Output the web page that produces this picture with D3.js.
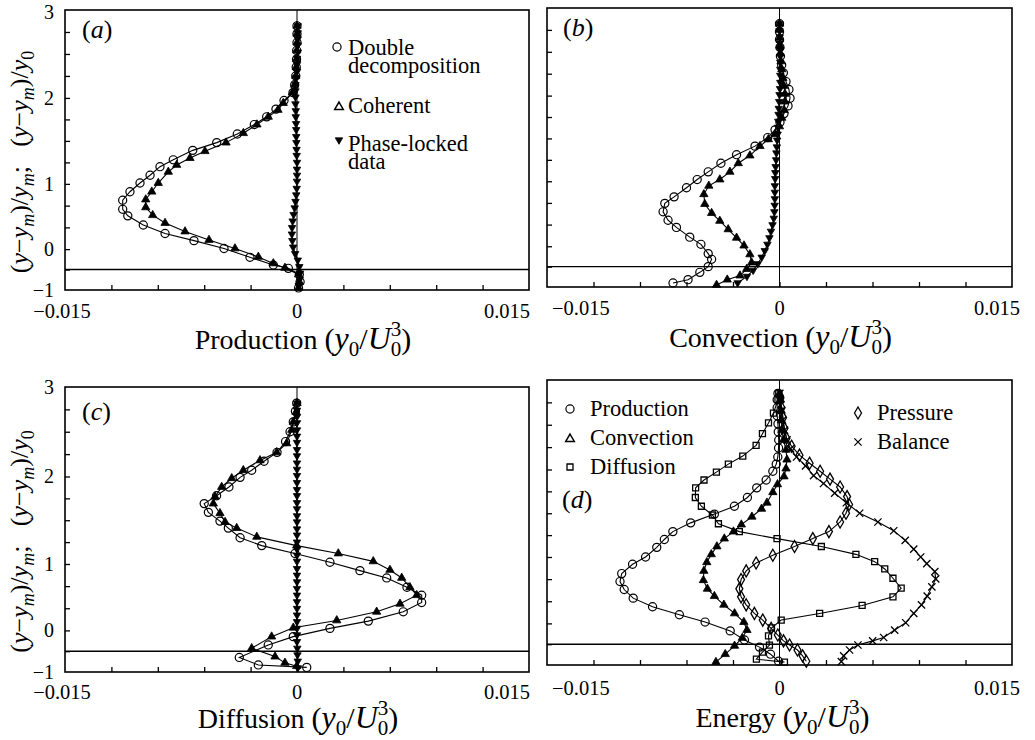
<!DOCTYPE html>
<html>
<head>
<meta charset="utf-8">
<script src="https://cdn.jsdelivr.net/npm/d3@7"></script>
<style>
  body { margin: 0; background: #fff; }
</style>
</head>
<body>
<script>
// Axis tick values
const xMinorTicks = [-0.012, -0.009, -0.006, -0.003, 0, 0.003, 0.006, 0.009, 0.012];
const xTickLabels = [-0.015, 0, 0.015];
const yTickLabels = [3, 2, 1, 0, -1];
const yTicks = [2.75, 2.5, 2.25, 2, 1.75, 1.5, 1.25, 1, 2 / 3, 1 / 3, 0, -0.5];

// Profiles: [vertical position, value in units of 1e-3 (y0/U0^3)]
const prodDouble = [[2.82,0],[2.73,0],[2.63,0],[2.54,-0.02],[2.44,-0.03],[2.35,-0.05],[2.25,-0.08],[2.15,-0.15],[2.06,-0.26],
  [1.97,-0.84],[1.87,-1.36],[1.78,-1.96],[1.69,-2.76],[1.58,-3.86],[1.48,-5.19],[1.39,-6.74],[1.28,-8.00],[1.20,-8.86],[1.10,-9.50],[1.01,-10.15],
  [0.88,-10.80],[0.75,-11.27],[0.61,-11.27],[0.51,-10.94],[0.37,-9.94],[0.24,-8.53],[0.13,-6.66],[0.01,-4.72],
  [-0.20,-3.04],[-0.39,-1.53],[-0.47,-0.56],[-0.62,0.15],[-0.80,0.2],[-0.95,0.1]];
const prodCoherent = [[2.82,0],[2.73,0],[2.63,0],[2.54,-0.02],[2.44,-0.03],[2.35,-0.05],[2.25,-0.08],[2.15,-0.15],[2.06,-0.3],
  [1.94,-0.89],[1.86,-1.23],[1.78,-1.86],[1.69,-2.59],[1.59,-3.47],[1.48,-4.59],[1.38,-5.95],[1.30,-6.92],[1.22,-7.78],[1.14,-8.32],[1.01,-8.97],
  [0.88,-9.39],[0.76,-9.78],[0.64,-9.78],[0.52,-9.33],[0.40,-8.53],[0.27,-7.24],[0.14,-5.69],[0.01,-4.01],
  [-0.19,-2.50],[-0.35,-1.53],[-0.46,-0.78],[-0.62,0.1],[-0.80,0.15],[-0.95,0.1]];

const convDouble = [[2.82,0],[2.73,0],[2.64,0],[2.55,0.03],[2.45,0.06],[2.35,0.14],[2.26,0.25],[2.16,0.42],[2.07,0.61],
  [1.97,0.68],[1.88,0.55],[1.79,0.29],[1.69,0.03],[1.60,-0.29],[1.51,-0.76],[1.41,-1.58],[1.31,-2.77],[1.21,-3.78],[1.11,-4.60],[1.02,-5.31],
  [0.90,-6.00],[0.76,-6.80],[0.66,-7.40],[0.53,-7.51],[0.40,-7.19],[0.29,-6.65],[0.14,-5.79],[0.03,-5.07],
  [-0.18,-4.60],[-0.32,-4.38],[-0.50,-4.60],[-0.64,-5.14],[-0.82,-5.90],[-0.90,-6.87]];
const convCoherent = [[2.82,0],[2.75,0],[2.66,0],[2.57,0.02],[2.48,0.05],[2.39,0.1],[2.30,0.15],[2.20,0.22],[2.11,0.29],[2.02,0.35],
  [1.93,0.35],[1.83,0.3],[1.74,0.15],[1.64,0],[1.55,-0.29],[1.49,-0.72],[1.41,-1.26],[1.30,-1.91],[1.21,-2.66],[1.11,-3.20],[1.02,-3.85],
  [0.93,-4.56],[0.80,-4.88],[0.65,-4.82],[0.51,-4.38],[0.39,-3.85],[0.26,-3.31],[0.13,-2.77],[0.01,-2.29],
  [-0.20,-1.91],[-0.40,-1.80],[-0.56,-2.12],[-0.72,-2.55],[-0.82,-3.37],[-0.95,-4.06]];

const diffDouble = [[2.82,-0.02],[2.73,-0.1],[2.61,-0.24],[2.50,-0.45],[2.39,-0.74],[2.27,-1.29],[2.17,-2.13],[2.07,-2.93],[1.99,-3.68],
  [1.88,-4.40],[1.78,-5.20],[1.69,-6.00],[1.59,-5.73],[1.49,-4.98],[1.41,-4.44],[1.30,-3.68],[1.21,-2.28],[1.12,-0.13],[1.02,2.13],
  [0.90,4.07],[0.79,5.80],[0.65,7.11],[0.53,8.06],[0.42,8.06],[0.28,6.87],[0.14,4.61],[0.03,2.13],
  [-0.15,-0.24],[-0.35,-1.86],[-0.65,-3.73],[-0.83,-2.50],[-0.89,0.63]];
const diffCoherent = [[2.82,0],[2.72,-0.06],[2.61,-0.24],[2.52,-0.34],[2.37,-0.67],[2.27,-1.31],[2.18,-2.39],[2.07,-3.47],[1.98,-4.22],
  [1.88,-4.87],[1.77,-5.30],[1.69,-5.41],[1.58,-4.98],[1.48,-4.65],[1.41,-3.90],[1.31,-2.60],[1.21,-0.02],[1.12,2.67],[1.03,4.93],
  [0.91,6.01],[0.79,6.77],[0.65,7.30],[0.53,7.74],[0.40,6.66],[0.28,5.15],[0.15,2.57],[0.04,-0.24],
  [-0.15,-1.64],[-0.43,-2.93],[-0.63,-1.42],[-0.78,-0.78],[-0.86,-0.02]];

// Phase-locked data share the same measuring stations
const phaseY = [2.82,2.74,2.67,2.60,2.52,2.45,2.38,2.30,2.23,2.15,2.08,2.01,1.93,1.85,1.78,1.70,1.63,1.55,1.48,1.40,1.33,
  1.25,1.17,1.10,1.03,0.93,0.83,0.73,0.63,0.53,0.43,0.33,0.23,0.13,0.03,-0.11,-0.27,-0.43,-0.59,-0.74,-0.90];
const prodPhase = [0.05,0.05,0.05,0.05,0.05,0,0,0,-0.05,-0.1,-0.1,-0.1,-0.1,-0.08,-0.08,-0.06,-0.05,-0.05,-0.04,-0.03,-0.02,
  0,0,0,0,-0.02,-0.05,-0.1,-0.15,-0.22,-0.28,-0.32,-0.33,-0.3,-0.25,-0.12,0.05,0.15,0.2,0.18,0.12];
const convPhase = [0,0,0.02,0.03,0.05,0.05,0.05,0.05,0.05,0.05,0.03,0,-0.02,-0.05,-0.06,-0.08,-0.1,-0.12,-0.15,-0.17,-0.2,
  -0.22,-0.25,-0.27,-0.28,-0.3,-0.3,-0.3,-0.31,-0.33,-0.37,-0.45,-0.55,-0.65,-0.78,-0.95,-1.15,-1.4,-1.7,-2.1,-2.7];
const diffPhase = [0,0,0,0,0,0,0,0,0,0,0,0,0,0,0,0,0,0,0,0,0,
  0,0,0,0,0,0,0,0,0,0,0,0,0,0,0,0,0.02,0.03,0.05,0.05];

// Energy budget terms
const energyProduction = [[2.85,-0.1],[2.78,-0.15],[2.69,-0.15],[2.60,-0.15],[2.51,-0.1],[2.42,-0.08],[2.33,-0.05],[2.24,-0.06],[2.14,-0.11],
  [2.06,-0.21],[1.98,-0.43],[1.88,-0.86],[1.79,-1.47],[1.68,-2.07],[1.58,-2.91],[1.49,-4.20],[1.39,-5.73],[1.29,-6.88],[1.20,-7.43],[1.11,-7.92],
  [1.00,-8.64],[0.89,-9.48],[0.75,-10.18],[0.63,-10.29],[0.51,-10.02],[0.38,-9.44],[0.25,-8.19],[0.13,-6.46],[0.02,-4.80],
  [-0.18,-3.18],[-0.40,-2.26],[-0.57,-1.29],[-0.74,-0.58],[-0.91,-0.06]];
const energyConvection = [[2.85,0],[2.78,0.06],[2.66,0.1],[2.55,0.13],[2.44,0.16],[2.33,0.26],[2.22,0.42],[2.11,0.48],[2.01,0.42],
  [1.92,0.29],[1.83,-0.13],[1.74,-0.43],[1.62,-0.81],[1.55,-1.16],[1.46,-1.78],[1.37,-2.46],[1.29,-2.97],[1.21,-3.56],[1.12,-4.04],[1.03,-4.40],
  [0.92,-4.69],[0.79,-4.88],[0.65,-4.91],[0.52,-4.65],[0.41,-4.20],[0.28,-3.59],[0.15,-2.90],[0.02,-2.30],
  [-0.16,-2.10],[-0.35,-2.40],[-0.54,-2.90],[-0.74,-3.50],[-0.93,-4.10]];
const energyDiffusion = [[2.85,-0.05],[2.78,-0.1],[2.63,-0.39],[2.52,-0.71],[2.40,-1.10],[2.27,-1.51],[2.15,-2.37],[2.06,-3.30],[1.97,-4.07],
  [1.88,-4.87],[1.79,-5.41],[1.68,-5.43],[1.58,-5.04],[1.48,-4.33],[1.38,-3.94],[1.29,-2.59],[1.21,-0.16],[1.12,2.70],[1.03,4.93],
  [0.93,6.14],[0.82,6.79],[0.68,7.32],[0.53,7.85],[0.40,7.32],[0.27,5.33],[0.15,2.59],[0.05,0.11],
  [-0.11,-0.52],[-0.30,-0.71],[-0.52,-0.65],[-0.69,-1.10],[-0.86,-1.49],[-0.93,0.32]];
const energyPressure = [[2.80,0.06],[2.69,0.13],[2.58,0.23],[2.46,0.32],[2.35,0.45],[2.26,0.78],[2.16,1.29],[2.07,1.94],[1.98,2.62],
  [1.89,3.26],[1.80,3.91],[1.69,4.36],[1.60,4.49],[1.50,4.29],[1.40,3.91],[1.29,3.19],[1.21,2.15],[1.12,0.97],[1.02,-0.43],
  [0.91,-1.51],[0.79,-2.15],[0.66,-2.48],[0.52,-2.59],[0.40,-2.48],[0.28,-2.15],[0.15,-1.62],[0.05,-1.08],
  [-0.12,-0.54],[-0.28,-0.11],[-0.42,0.26],[-0.52,0.65],[-0.64,1.16],[-0.78,1.49],[-0.91,1.73]];
const energyBalance = [[2.85,0.02],[2.78,0.06],[2.66,0.13],[2.55,0.19],[2.44,0.32],[2.33,0.48],[2.23,0.71],[2.14,1.10],[2.04,1.68],
  [1.93,2.20],[1.84,2.84],[1.73,3.56],[1.62,4.31],[1.50,5.17],[1.40,6.35],[1.30,7.37],[1.19,8.11],[1.09,8.66],[1.00,9.11],
  [0.90,9.50],[0.78,10.02],[0.67,10.08],[0.55,9.83],[0.41,9.53],[0.28,9.16],[0.15,8.66],[0.01,8.14],
  [-0.16,7.43],[-0.34,6.72],[-0.42,6.01],[-0.52,5.06],[-0.64,4.52],[-0.78,4.14],[-0.92,3.99]];

const zipPhase = vals => phaseY.map((p, i) => [p, vals[i]]);

// ---------------------------------------------------------------
const SERIF = "Liberation Serif";
const svg = d3.select("body").append("svg")
  .attr("width", 1035).attr("height", 740)
  .attr("font-family", SERIF);
svg.append("rect").attr("width", 1035).attr("height", 740).attr("fill", "#fff");

function addText(g) {
  return g.append("text").attr("font-family", SERIF).attr("fill", "#000");
}

const markers = {
  circle:  { type: d3.symbolCircle,   size: 52, fill: "none", stroke: 1.2, rot: 0 },
  tri:     { type: d3.symbolTriangle, size: 30, fill: "#000", stroke: 0.8, rot: 0 },
  triOpen: { type: d3.symbolTriangle, size: 32, fill: "none", stroke: 1.5, rot: 0 },
  dtri:    { type: d3.symbolTriangle, size: 24, fill: "#000", stroke: 0.8, rot: 180 },
  square:  { type: d3.symbolSquare,   size: 36, fill: "none", stroke: 1.3, rot: 0 },
  diamond: { type: d3.symbolDiamond,  size: 42, fill: "none", stroke: 1.3, rot: 0 },
  cross:   { type: d3.symbolX,        size: 36, fill: "none", stroke: 1.3, rot: 0 }
};

function drawMarker(g, kind, cx, cy) {
  const m = markers[kind];
  g.append("path")
    .attr("d", d3.symbol().type(m.type).size(m.size)())
    .attr("transform", `translate(${cx},${cy}) rotate(${m.rot})`)
    .attr("fill", m.fill)
    .attr("stroke", "#000")
    .attr("stroke-width", m.stroke);
}

const fmtX = v => v === 0 ? "0" : (v < 0 ? "\u2212" : "") + Math.abs(v).toFixed(3);
const fmtY = v => v < 0 ? "\u2212" + Math.abs(v) : String(v);

// "Name (y0/U0^3)" with the 3 stacked over the subscript 0
function unitTitle(g, cx, baseY, name) {
  const t = addText(g).attr("x", cx).attr("y", baseY)
    .attr("text-anchor", "middle").attr("font-size", 28);
  t.append("tspan").text(name + " ");
  t.append("tspan").attr("font-size", 30).text("(");
  t.append("tspan").attr("font-size", 32).attr("font-style", "italic").text("y");
  t.append("tspan").attr("font-size", 21).attr("dy", 7).text("0");
  t.append("tspan").attr("font-size", 30).attr("dy", -7).text("/");
  t.append("tspan").attr("font-size", 32).attr("font-style", "italic").text("U");
  t.append("tspan").attr("font-size", 21).attr("dy", -13).text("3");
  t.append("tspan").attr("font-size", 21).attr("dx", -10.5).attr("dy", 20).text("0");
  t.append("tspan").attr("font-size", 30).attr("dy", -7).text(")");
}

function yTitle(g, cx, cy) {
  const t = addText(g)
    .attr("transform", `translate(${cx},${cy}) rotate(-90)`)
    .attr("text-anchor", "middle").attr("font-size", 26);
  const parts = [
    ["(", "n"], ["y", "i"], ["\u2212", "n"], ["y", "i"], ["m", "s"], [")/", "n"], ["y", "i"], ["m", "s"], [";\u00a0\u00a0\u00a0", "n"],
    ["(", "n"], ["y", "i"], ["\u2212", "n"], ["y", "i"], ["m", "s"], [")/", "n"], ["y", "i"], ["0", "s0"]
  ];
  let low = false;
  parts.forEach(([s, k]) => {
    const sp = t.append("tspan").text(s);
    const sub = k === "s" || k === "s0";
    if (k === "i" || k === "s") sp.attr("font-style", "italic");
    if (sub) { sp.attr("font-size", 18); if (!low) sp.attr("dy", 6); low = true; }
    else if (low) { sp.attr("dy", -6); low = false; }
  });
}

function panelLabel(g, x, y, letter) {
  const t = addText(g).attr("x", x).attr("y", y).attr("font-size", 26);
  t.append("tspan").text("(");
  t.append("tspan").attr("font-style", "italic").text(letter);
  t.append("tspan").text(")");
}

function drawPanel(p) {
  const g = svg.append("g");
  const h = p.bottom - p.top;
  const x = d3.scaleLinear().domain([-0.015, 0.015]).range([p.left, p.right]);
  const y = d3.scaleLinear()
    .domain([-1, 0, 1, 2, 3])
    .range([p.bottom, p.top + 0.854 * h, p.top + 0.621 * h, p.top + 0.314 * h, p.top]);

  // zero line and the y = ym line
  g.append("line").attr("x1", x(0)).attr("x2", x(0)).attr("y1", p.top).attr("y2", p.bottom)
    .attr("stroke", "#000").attr("stroke-width", 1);
  g.append("line").attr("x1", p.left).attr("x2", p.right).attr("y1", y(-0.5)).attr("y2", y(-0.5))
    .attr("stroke", "#000").attr("stroke-width", 1.4);

  // inward tick marks
  const xa = g.append("g").attr("transform", `translate(0,${p.bottom})`)
    .call(d3.axisBottom(x).tickValues(xMinorTicks).tickSize(-5).tickFormat(""));
  const ya = g.append("g").attr("transform", `translate(${p.left},0)`)
    .call(d3.axisLeft(y).tickValues(yTicks).tickSize(-5).tickFormat(""));
  [xa, ya].forEach(a => {
    a.select(".domain").remove();
    a.selectAll("line").attr("stroke", "#000").attr("stroke-width", 1.3);
  });

  // frame
  g.append("rect").attr("x", p.left).attr("y", p.top)
    .attr("width", p.right - p.left).attr("height", h)
    .attr("fill", "none").attr("stroke", "#000").attr("stroke-width", 1.6);

  // x tick labels
  xTickLabels.forEach(v => {
    let anchor = "middle", px = x(v);
    if (v < 0) { anchor = p.leftCol ? "middle" : "start"; px = p.leftCol ? x(v) - 3 : x(v) + 5; }
    if (v > 0) { anchor = "end"; px = p.leftCol ? x(v) + 1 : x(v) + 8; }
    addText(g).attr("x", px).attr("y", p.bottom + p.tickDy)
      .attr("text-anchor", anchor).attr("font-size", 20.5).text(fmtX(v));
  });

  // y tick labels on the left column (kept inside the page at the top)
  if (p.leftCol) {
    yTickLabels.forEach(v => {
      addText(g).attr("x", p.left - 11).attr("y", Math.max(y(v) + 7, 18.5))
        .attr("text-anchor", "end").attr("font-size", 20).text(fmtY(v));
    });
    yTitle(g, 28, (p.top + p.bottom) / 2 + 12);
  }

  // profiles
  const line = d3.line().x(d => x(d[1] * 1e-3)).y(d => y(d[0]));
  p.series.forEach(s => {
    g.append("path").datum(s.data).attr("d", line)
      .attr("fill", "none").attr("stroke", "#000").attr("stroke-width", 1.1);
    s.data.forEach(d => drawMarker(g, s.mark, x(d[1] * 1e-3), y(d[0])));
  });

  panelLabel(g, p.labelX, p.labelY, p.letter);
  unitTitle(g, x(0) + p.titleDx, p.titleY, p.title);
  return g;
}

const gA = drawPanel({
  left: 65, right: 529, top: 10, bottom: 290, leftCol: true, tickDy: 28,
  letter: "a", labelX: 82, labelY: 38, title: "Production", titleDx: 6, titleY: 349,
  series: [
    { data: prodDouble, mark: "circle" },
    { data: prodCoherent, mark: "tri" },
    { data: zipPhase(prodPhase), mark: "dtri" }
  ]
});
const gB = drawPanel({
  left: 547, right: 1012, top: 8, bottom: 287, leftCol: false, tickDy: 28,
  letter: "b", labelX: 563, labelY: 36, title: "Convection", titleDx: 1, titleY: 347,
  series: [
    { data: convDouble, mark: "circle" },
    { data: convCoherent, mark: "tri" },
    { data: zipPhase(convPhase), mark: "dtri" }
  ]
});
const gC = drawPanel({
  left: 65, right: 529, top: 387, bottom: 672, leftCol: true, tickDy: 27,
  letter: "c", labelX: 82, labelY: 420, title: "Diffusion", titleDx: 1, titleY: 728,
  series: [
    { data: diffDouble, mark: "circle" },
    { data: diffCoherent, mark: "tri" },
    { data: zipPhase(diffPhase), mark: "dtri" }
  ]
});
const gD = drawPanel({
  left: 547, right: 1012, top: 380, bottom: 665, leftCol: false, tickDy: 30,
  letter: "d", labelX: 562, labelY: 508, title: "Energy", titleDx: 3, titleY: 727,
  series: [
    { data: energyProduction, mark: "circle" },
    { data: energyConvection, mark: "tri" },
    { data: energyDiffusion, mark: "square" },
    { data: energyPressure, mark: "diamond" },
    { data: energyBalance, mark: "cross" }
  ]
});

// legends (multi-line entries share one text element)
function legendText(g, x, y, lines) {
  const t = addText(g).attr("x", x).attr("y", y).attr("font-size", 22.5);
  lines.forEach((s, i) => t.append("tspan").attr("x", x).attr("dy", i ? 17.5 : 0).text(s));
}
drawMarker(gA, "circle", 337, 47);
legendText(gA, 348, 55, ["Double", "decomposition"]);
drawMarker(gA, "triOpen", 339, 107);
legendText(gA, 348, 113, ["Coherent"]);
drawMarker(gA, "dtri", 339, 140);
legendText(gA, 348, 151, ["Phase-locked", "data"]);

drawMarker(gD, "circle", 570, 409);
legendText(gD, 590, 416, ["Production"]);
drawMarker(gD, "triOpen", 570, 439);
legendText(gD, 590, 445, ["Convection"]);
drawMarker(gD, "square", 570, 467);
legendText(gD, 590, 474, ["Diffusion"]);
drawMarker(gD, "diamond", 858, 413);
legendText(gD, 877, 420, ["Pressure"]);
drawMarker(gD, "cross", 858, 442);
legendText(gD, 877, 449, ["Balance"]);
</script>
</body>
</html>
